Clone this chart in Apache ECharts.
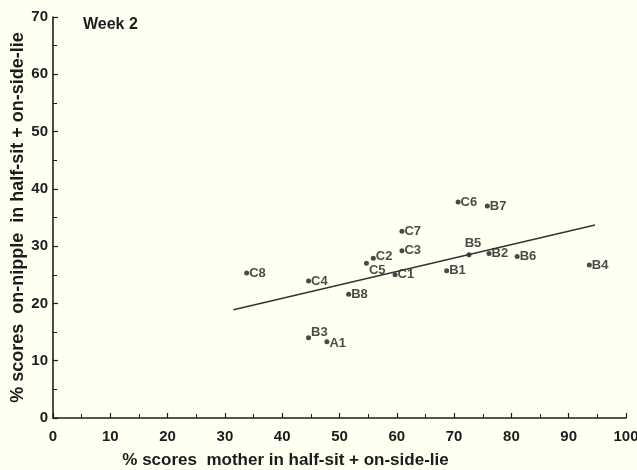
<!DOCTYPE html>
<html>
<head>
<meta charset="utf-8">
<script src="https://cdn.jsdelivr.net/npm/echarts@6/dist/echarts.min.js"></script>
<style>
  html, body { margin: 0; padding: 0; background: #fffff2; }
  #chart { width: 637px; height: 470px; }
</style>
</head>
<body>
<div id="chart"></div>
<script>
  // mothers (pair id), x = % mother in half-sit + on-side-lie, y = % on-nipple
  const names = ['C6', 'B7', 'C7', 'C3', 'C2', 'C5', 'C1', 'C4', 'B8', 'B1', 'B5', 'B2', 'B6', 'B4', 'B3', 'A1', 'C8']
  const xVals = [70.7, 75.8, 60.9, 60.9, 55.9, 54.7, 59.7, 44.6, 51.6, 68.7, 72.6, 76.1, 81.0, 93.6, 44.6, 47.8, 33.8]
  const yVals = [37.7, 37.0, 32.6, 29.2, 27.9, 27.0, 25.0, 23.9, 21.6, 25.7, 28.5, 28.7, 28.2, 26.7, 14.0, 13.3, 25.3]

  // fitted line end points
  const fitX = [31.5, 94.6]
  const fitY = [18.9, 33.7]

  const xTicks = [0, 10, 20, 30, 40, 50, 60, 70, 80, 90, 100]
  const yTicks = [0, 10, 20, 30, 40, 50, 60, 70]

  // where each label sits relative to its dot
  const labelPlace = {
    B5: { position: 'top', offset: [4, 0] },
    C5: { position: 'right', offset: [-2, 7] },
    B3: { position: 'right', offset: [-2, -5] },
    C2: { position: 'right', offset: [-2, -2] },
    A1: { position: 'right', offset: [-2, 2] }
  }

  const points = names.map((n, i) => {
    const p = { name: n, value: [xVals[i], yVals[i]] }
    if (labelPlace[n]) p.label = labelPlace[n]
    return p
  })

  const font = 'Liberation Sans, Arial, sans-serif'
  const ink = '#1c1c1c'

  const axisCommon = {
    type: 'value',
    interval: 10,
    min: 0,
    axisLine: { show: true, lineStyle: { color: ink, width: 1.6 } },
    axisTick: { show: true, inside: true, length: 5, lineStyle: { color: ink, width: 1.2 } },
    minorTick: { show: true, splitNumber: 2, length: 4, lineStyle: { color: ink, width: 1 } },
    splitLine: { show: false },
    axisLabel: { color: ink, fontFamily: font, fontWeight: 'bold', fontSize: 15 },
    nameTextStyle: { color: ink, fontFamily: font, fontWeight: 'bold', fontSize: 17 }
  }

  const chart = echarts.init(document.getElementById('chart'))
  chart.setOption({
    backgroundColor: '#fffff2',
    animation: false,
    title: {
      text: 'Week 2',
      left: 78,
      top: 12,
      textStyle: { color: ink, fontFamily: font, fontWeight: 'bold', fontSize: 16 }
    },
    grid: { left: 53, right: 11, top: 17, bottom: 52, outerBoundsMode: 'none', containLabel: false },
    xAxis: Object.assign({}, axisCommon, {
      max: 100,
      name: '% scores  mother in half-sit + on-side-lie',
      nameLocation: 'middle',
      nameGap: 34,
      nameTextStyle: Object.assign({}, axisCommon.nameTextStyle, { padding: [0, 108, 0, 0] }),
      axisLabel: Object.assign({}, axisCommon.axisLabel, {
        margin: 11,
        formatter: v => (xTicks.indexOf(v) >= 0 ? String(v) : '')
      })
    }),
    yAxis: Object.assign({}, axisCommon, {
      max: 70,
      name: '% scores  on-nipple  in half-sit + on-side-lie',
      nameLocation: 'middle',
      nameGap: 26,
      nameMoveOverlap: false,
      nameTextStyle: Object.assign({}, axisCommon.nameTextStyle, { fontSize: 18 }),
      axisLabel: Object.assign({}, axisCommon.axisLabel, {
        margin: 5,
        formatter: v => (yTicks.indexOf(v) >= 0 ? String(v) : '')
      })
    }),
    series: [
      {
        type: 'scatter',
        data: points,
        symbol: 'circle',
        symbolSize: 5,
        itemStyle: { color: ink },
        label: {
          show: true,
          position: 'right',
          offset: [-2, 0],
          distance: 2,
          formatter: '{b}',
          color: ink,
          fontFamily: font,
          fontWeight: 'bold',
          fontSize: 13
        }
      },
      {
        type: 'line',
        data: fitX.map((x, i) => [x, fitY[i]]),
        symbol: 'none',
        lineStyle: { color: '#333', width: 1.4 }
      }
    ]
  })
</script>
</body>
</html>
